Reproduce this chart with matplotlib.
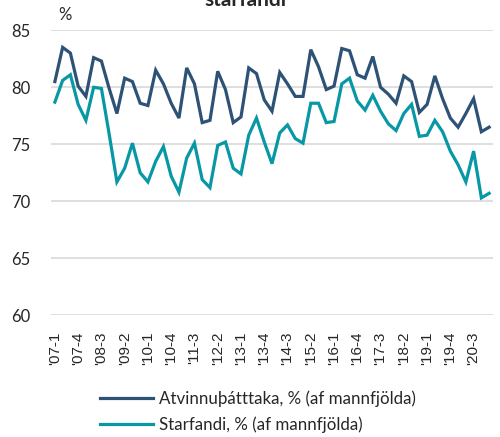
import numpy as np
import matplotlib.pyplot as plt

# quarterly series 2007Q1 - 2021Q1
quarters = [f"'{y % 100:02d}-{q}" for y in range(2007, 2022) for q in range(1, 5)][:57]

atvinnuthatttaka = [
    80.5, 83.5, 83.0, 80.1, 79.2, 82.6, 82.3, 79.9, 77.7,
    80.8, 80.5, 78.6, 78.4, 81.5, 80.3, 78.6, 77.3, 81.7, 80.3,
    76.9, 77.1, 81.4, 79.8, 76.9, 77.4, 81.7, 81.2, 78.9, 77.9,
    81.3, 80.3, 79.2, 79.2, 83.3, 81.8, 79.8, 80.1, 83.4, 83.2,
    81.1, 80.8, 82.7, 80.0, 79.4, 78.6, 81.0, 80.5, 77.8,
    78.5, 81.0, 79.0, 77.3, 76.5, 77.7, 79.0, 76.1, 76.5,
]
starfandi = [
    78.7, 80.6, 81.1, 78.5, 77.1, 80.0, 79.9, 75.9, 71.7,
    72.9, 75.1, 72.5, 71.7, 73.5, 74.8, 72.2, 70.8, 73.8, 75.1,
    71.9, 71.2, 74.9, 75.2, 72.9, 72.4, 75.8, 77.3, 75.2, 73.3,
    76.0, 76.7, 75.5, 75.1, 78.6, 78.6, 76.9, 77.0, 80.3, 80.8,
    78.8, 78.0, 79.3, 77.9, 76.8, 76.2, 77.7, 78.5, 75.7,
    75.8, 77.1, 76.1, 74.4, 73.2, 71.7, 74.4, 70.3, 70.7,
]
series_labels = ["Atvinnuþátttaka, % (af mannfjölda)", "Starfandi, % (af mannfjölda)"]
yticks = [60, 65, 70, 75, 80, 85]

DARK = '#2d5276'
TEAL = '#0898a5'
GRID = '#d9d9d9'
TXT = '#262626'

fig = plt.figure(figsize=(5.0, 4.37), dpi=100)
ax = fig.add_axes([0.102, 0.2785, 0.884, 0.6522])

x = np.arange(len(quarters))
ax.plot(x, atvinnuthatttaka, color=DARK, lw=2.3, label=series_labels[0], solid_joinstyle='miter')
ax.plot(x, starfandi, color=TEAL, lw=2.3, label=series_labels[1], solid_joinstyle='miter')

ax.set_xlim(-0.5, len(quarters) - 0.5)
ax.set_ylim(60, 85)
ax.set_yticks(yticks)
ax.set_yticklabels([str(v) for v in yticks], fontsize=12, color=TXT, family='Lato')
ax.set_xticks(x[::3])
ax.set_xticklabels(quarters[::3], rotation=90, fontsize=11, color=TXT, family='Liberation Sans')
ax.tick_params(axis='both', length=0)
ax.tick_params(axis='y', pad=15)
ax.tick_params(axis='x', pad=12)
ax.grid(axis='y', color=GRID, lw=1.2)
ax.set_axisbelow(True)
for s in ax.spines.values():
    s.set_visible(False)

fig.text(0.116, 1 - 15 / 437, '%', fontsize=12, color=TXT, family='Lato', ha='left', va='center')
fig.text(0.49, 1 - 6 / 437, 'starfandi', fontsize=15, weight='bold', color=TXT,
         family='Lato', ha='center', va='baseline')

leg = fig.legend(loc='center left', bbox_to_anchor=(0.2, 1 - 412 / 437), frameon=False,
                 prop={'family': 'Lato', 'size': 12.2}, handlelength=3.1,
                 handletextpad=0.4, labelspacing=0.55, borderpad=0, borderaxespad=0)
for t in leg.get_texts():
    t.set_color(TXT)

fig.savefig('out.png', dpi=100)
